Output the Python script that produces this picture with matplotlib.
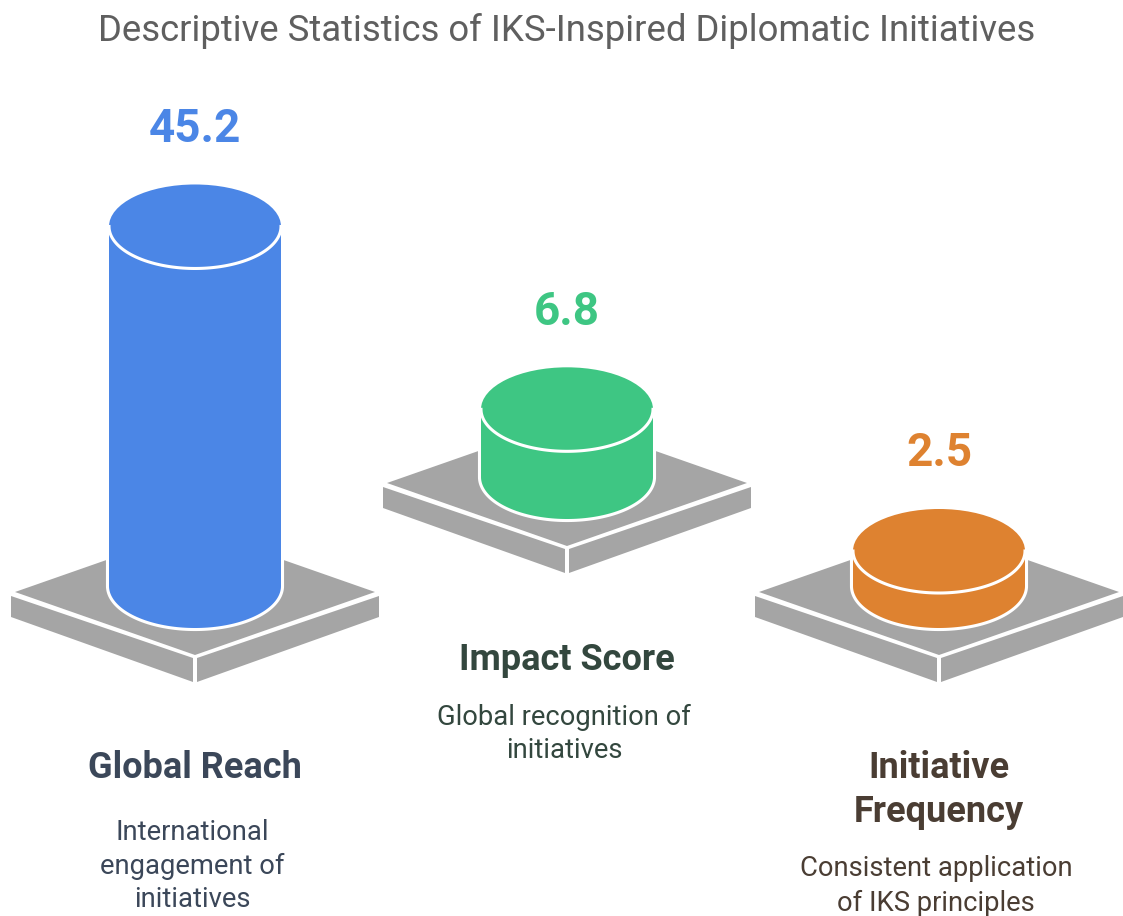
import matplotlib

matplotlib.use("Agg")
import matplotlib.pyplot as plt
import numpy as np
from matplotlib.patches import Ellipse, Polygon

TITLE = "Descriptive Statistics of IKS-Inspired Diplomatic Initiatives"
values = [45.2, 6.8, 2.5]
names = ["Global Reach", "Impact Score", "Initiative\nFrequency"]
notes = [
    "International\nengagement of\ninitiatives",
    "Global recognition of\ninitiatives",
    "Consistent application\nof IKS principles",
]

# layout, in image pixels
centers = [195, 567, 939]
plate_y = [592, 483, 592]
name_y = [768, 660, 790]
note_y = [866, 734, 886]
colors = ["#4B86E6", "#3EC683", "#DE8230"]
text_colors = ["#3B4759", "#33473E", "#4A3D33"]
GRAY = "#A5A5A5"
RX, RY = 86, 42
PX_H = 16  # column height at zero
PX_PER_UNIT = 7.6
NOTE_SHIFT = -3

plt.rcParams["font.family"] = ["Roboto", "DejaVu Sans"]


def draw_plate(ax, cx, y):
    ax.add_patch(Polygon([(cx - 180, y), (cx, y - 63), (cx + 180, y), (cx, y + 63)], fc=GRAY, ec="none"))
    ax.add_patch(Polygon([(cx - 184, y + 4), (cx - 2, y + 66), (cx - 2, y + 90), (cx - 184, y + 25)], fc=GRAY, ec="none"))
    ax.add_patch(Polygon([(cx + 184, y + 4), (cx + 2, y + 66), (cx + 2, y + 90), (cx + 184, y + 25)], fc=GRAY, ec="none"))


def draw_column(ax, cx, y_base, height, color):
    y_top = y_base - height
    t = np.linspace(0, np.pi, 100)
    arc_x = cx + RX * np.cos(t)
    body = np.column_stack([
        np.r_[cx + RX, arc_x, cx - RX],
        np.r_[y_top, y_base + RY * np.sin(t), y_top],
    ])
    # white halo first, fill on top so the halo only shows outside
    ax.add_patch(Polygon(body, closed=False, fc="white", ec="white", lw=4.4, joinstyle="round"))
    ax.add_patch(Polygon(body, closed=False, fc=color, ec="none"))
    ax.add_patch(Ellipse((cx, y_top), 2 * RX, 2 * RY, fc=color, ec="none"))
    ax.plot(arc_x, y_top + RY * np.sin(t), color="white", lw=2.2)


fig = plt.figure(figsize=(11.23, 9.16), dpi=100)
ax = fig.add_axes([0, 0, 1, 1])
ax.set_xlim(0, 1123)
ax.set_ylim(916, 0)
ax.axis("off")

ax.text(567, 31, TITLE, ha="center", va="center", fontsize=26.3, color="#5F5F5F")

for i, value in enumerate(values):
    cx = centers[i]
    height = PX_H + PX_PER_UNIT * value
    y_base = plate_y[i] - 6
    draw_plate(ax, cx, plate_y[i])
    draw_column(ax, cx, y_base, height, colors[i])
    ax.text(cx, y_base - height - RY - 55.5, f"{value}", ha="center", va="center",
            fontsize=33, fontweight="bold", color=colors[i])
    ax.text(cx, name_y[i], names[i], ha="center", va="center", fontsize=26,
            fontweight="bold", color=text_colors[i], linespacing=1.29)
    ax.text(cx + NOTE_SHIFT, note_y[i], notes[i], ha="center", va="center", fontsize=19.7,
            color=text_colors[i], linespacing=1.33)

fig.savefig("out.png", dpi=100, facecolor="white")
plt.close(fig)
